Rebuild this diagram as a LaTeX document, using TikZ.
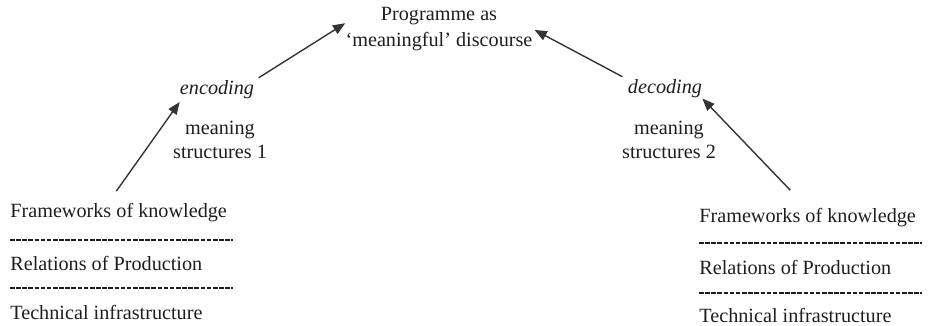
\documentclass[tikz,border=0pt]{standalone}
\usepackage{fontspec}
\setmainfont{Liberation Serif}
\usetikzlibrary{positioning, arrows.meta}
\definecolor{inkgray}{RGB}{30,30,30}
\tikzset{
    lbl/.style={inner sep=0pt, align=center, text=inkgray, font=\fontsize{11.5}{14}\selectfont},
    rowlbl/.style={inner sep=0pt, anchor=west, text=inkgray, font=\fontsize{11.5}{14}\selectfont},
    arr/.style={-{Triangle[length=7pt, width=5.6pt]}, line width=0.8pt, color=inkgray!90},
    sepline/.style={line width=0.9pt, dash pattern=on 2.6pt off 0.9pt, color=inkgray}
}
\begin{document}
\begin{tikzpicture}[x=0.02cm, y=-0.02cm]
    \useasboundingbox (0,0) rectangle (928,325);

    % Programme at the top
    \node[lbl, font=\fontsize{11.5}{14.4}\selectfont] (prog) at (439,29) {Programme as\\`meaningful' discourse};

    % Encoding side
    \node[lbl, font=\fontsize{11.5}{14}\itshape] (enc) at (217,90) {encoding};
    \node[lbl, font=\fontsize{11.5}{13.6}\selectfont] (encms) at (220,140) {meaning\\structures 1};

    % Decoding side
    \node[lbl, font=\fontsize{11.5}{14}\itshape] (dec) at (665,89) {decoding};
    \node[lbl, font=\fontsize{11.5}{13.6}\selectfont] (decms) at (669,140) {meaning\\structures 2};

    % Left block
    \node[rowlbl] (lfk) at (10,213) {Frameworks of knowledge};
    \node[rowlbl] (lrp) at (10,263) {Relations of Production};
    \node[rowlbl] (lti) at (10,312) {Technical infrastructure};
    \draw[sepline] (10,240) -- (233,240);
    \draw[sepline] (10,288) -- (233,288);

    % Right block
    \node[rowlbl] (rfk) at (699,218) {Frameworks of knowledge};
    \node[rowlbl] (rrp) at (699,267) {Relations of Production};
    \node[rowlbl] (rti) at (699,315) {Technical infrastructure};
    \draw[sepline] (699,243) -- (922,243);
    \draw[sepline] (699,293) -- (922,293);

    % Arrows
    \draw[arr, shorten <=0.3cm] ([xshift=-0.22cm]lfk.north) -- ([yshift=-0.05cm]enc.south west);
    \draw[arr, shorten <=0.1cm] (enc.north east) -- ([yshift=-0.32cm]prog.north west);
    \draw[arr, shorten <=0.12cm, shorten >=0.04cm] (dec.north west) -- (prog.east);
    \draw[arr, shorten <=0.5cm] (rfk.north) -- (dec.south east);
\end{tikzpicture}
\end{document}
